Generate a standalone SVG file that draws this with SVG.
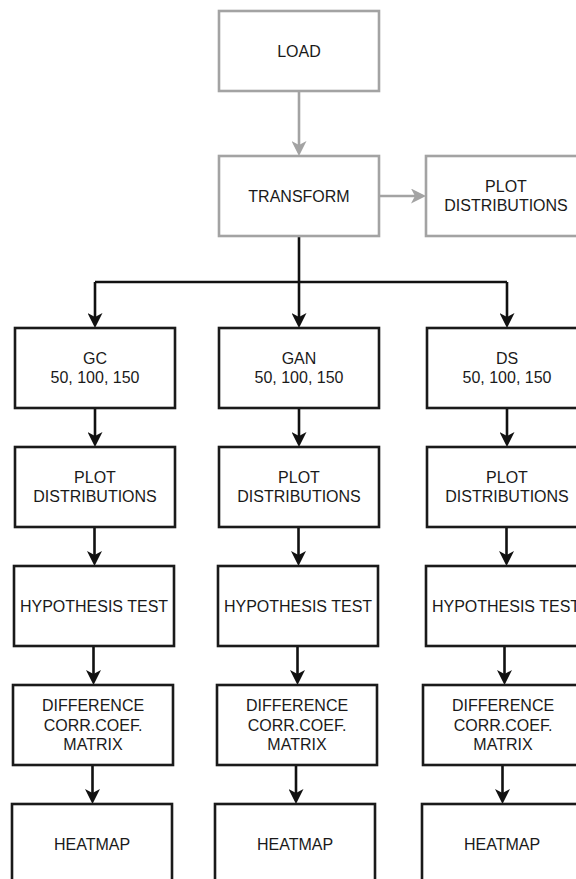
<svg xmlns="http://www.w3.org/2000/svg" width="576" height="879" viewBox="0 0 576 879">
<style>
.g{fill:#fff;stroke:#a3a3a3;stroke-width:2.6}
.b{fill:#fff;stroke:#1a1a1a;stroke-width:2.6}
text{font-family:"Liberation Sans",Arial,Helvetica,sans-serif;font-size:16px;fill:#1a1a1a;text-anchor:middle}
.cg{fill:none;stroke:#a3a3a3;stroke-width:2.6}
.cb{fill:none;stroke:#111;stroke-width:2.6}
</style>
<defs>
<marker id="ag" viewBox="0 0 15 15" refX="10" refY="7.5" markerWidth="15" markerHeight="15" markerUnits="userSpaceOnUse" orient="auto"><path d="M0,0 L15,7.5 L0,15 L4,7.5 Z" fill="#a3a3a3"/></marker>
<marker id="ab" viewBox="0 0 15 15" refX="10" refY="7.5" markerWidth="15" markerHeight="15" markerUnits="userSpaceOnUse" orient="auto"><path d="M0,0 L15,7.5 L0,15 L4,7.5 Z" fill="#111"/></marker>
</defs>
<rect width="576" height="879" fill="#fff"/>
<g id="connectors">
<path class="cg" d="M299,91 L299,151" marker-end="url(#ag)"/>
<path class="cg" d="M379,196 L421,196" marker-end="url(#ag)"/>
<path class="cb" d="M299,236 L299,282"/>
<path class="cb" d="M95,282 L507,282"/>
<path class="cb" d="M95,282 L95,323" marker-end="url(#ab)"/>
<path class="cb" d="M299,282 L299,323" marker-end="url(#ab)"/>
<path class="cb" d="M507,282 L507,323" marker-end="url(#ab)"/>
<path class="cb" d="M95,408 L95,442" marker-end="url(#ab)"/>
<path class="cb" d="M94.5,527 L94.5,561" marker-end="url(#ab)"/>
<path class="cb" d="M93.5,646 L93.5,680" marker-end="url(#ab)"/>
<path class="cb" d="M92.5,765 L92.5,799" marker-end="url(#ab)"/>
<path class="cb" d="M299,408 L299,442" marker-end="url(#ab)"/>
<path class="cb" d="M298.5,527 L298.5,561" marker-end="url(#ab)"/>
<path class="cb" d="M297.5,646 L297.5,680" marker-end="url(#ab)"/>
<path class="cb" d="M296,765 L296,799" marker-end="url(#ab)"/>
<path class="cb" d="M507,408 L507,442" marker-end="url(#ab)"/>
<path class="cb" d="M506.5,527 L506.5,561" marker-end="url(#ab)"/>
<path class="cb" d="M504.5,646 L504.5,680" marker-end="url(#ab)"/>
<path class="cb" d="M502.5,765 L502.5,799" marker-end="url(#ab)"/>
</g>
<g id="load"><rect class="g" x="219" y="11" width="160" height="80"/><text x="299" y="56.8">LOAD</text></g>
<g id="transform"><rect class="g" x="219" y="156" width="160" height="80"/><text x="299" y="201.8">TRANSFORM</text></g>
<g id="plot-top"><rect class="g" x="426" y="156" width="160" height="80"/><text x="506" y="192.1">PLOT</text><text x="506" y="211.4">DISTRIBUTIONS</text></g>

<g id="gc"><rect class="b" x="15" y="328" width="160" height="80"/><text x="95" y="364.1">GC</text><text x="95" y="383.4">50, 100, 150</text></g>
<g id="gan"><rect class="b" x="219" y="328" width="160" height="80"/><text x="299" y="364.1">GAN</text><text x="299" y="383.4">50, 100, 150</text></g>
<g id="ds"><rect class="b" x="427" y="328" width="160" height="80"/><text x="507" y="364.1">DS</text><text x="507" y="383.4">50, 100, 150</text></g>

<g id="gc-plot"><rect class="b" x="15" y="447" width="160" height="80"/><text x="95" y="483.1">PLOT</text><text x="95" y="502.4">DISTRIBUTIONS</text></g>
<g id="gan-plot"><rect class="b" x="219" y="447" width="160" height="80"/><text x="299" y="483.1">PLOT</text><text x="299" y="502.4">DISTRIBUTIONS</text></g>
<g id="ds-plot"><rect class="b" x="427" y="447" width="160" height="80"/><text x="507" y="483.1">PLOT</text><text x="507" y="502.4">DISTRIBUTIONS</text></g>

<g id="gc-hyp"><rect class="b" x="14" y="566" width="160" height="80"/><text x="94" y="611.8">HYPOTHESIS TEST</text></g>
<g id="gan-hyp"><rect class="b" x="218" y="566" width="160" height="80"/><text x="298" y="611.8">HYPOTHESIS TEST</text></g>
<g id="ds-hyp"><rect class="b" x="426" y="566" width="160" height="80"/><text x="506" y="611.8">HYPOTHESIS TEST</text></g>

<g id="gc-diff"><rect class="b" x="13" y="685" width="160" height="80"/><text x="93" y="711.4">DIFFERENCE</text><text x="93" y="730.7">CORR.COEF.</text><text x="93" y="750">MATRIX</text></g>
<g id="gan-diff"><rect class="b" x="217" y="685" width="160" height="80"/><text x="297" y="711.4">DIFFERENCE</text><text x="297" y="730.7">CORR.COEF.</text><text x="297" y="750">MATRIX</text></g>
<g id="ds-diff"><rect class="b" x="423" y="685" width="160" height="80"/><text x="503" y="711.4">DIFFERENCE</text><text x="503" y="730.7">CORR.COEF.</text><text x="503" y="750">MATRIX</text></g>

<g id="gc-heat"><rect class="b" x="12" y="804" width="160" height="80"/><text x="92" y="849.8">HEATMAP</text></g>
<g id="gan-heat"><rect class="b" x="215" y="804" width="160" height="80"/><text x="295" y="849.8">HEATMAP</text></g>
<g id="ds-heat"><rect class="b" x="422" y="804" width="160" height="80"/><text x="502" y="849.8">HEATMAP</text></g>
</svg>
